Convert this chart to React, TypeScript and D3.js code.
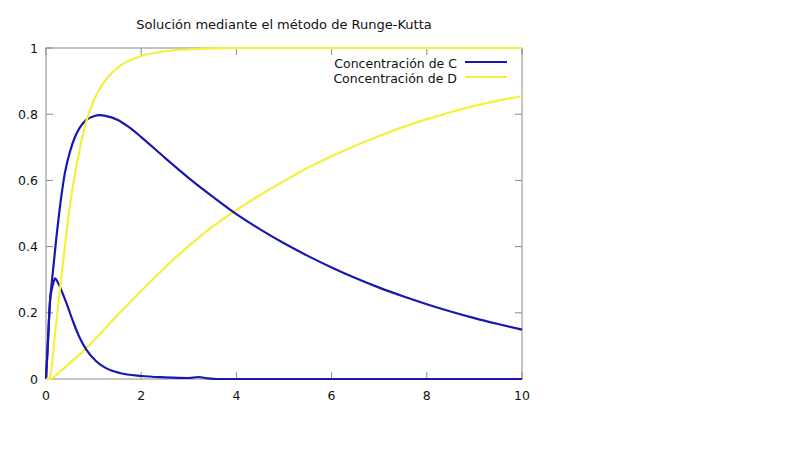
import React from "react";
import * as d3 from "d3";

const title = "Solución mediante el método de Runge-Kutta";
const seriesNames = ["Concentración de C", "Concentración de D"];
const xTicks = [0, 2, 4, 6, 8, 10];
const yTicks = [0, 0.2, 0.4, 0.6, 0.8, 1];

// Concentration of C, slow second step (large peak)
const concC1: [number, number][] = [
  [0, 0], [0.04, 0.11], [0.084, 0.235], [0.12, 0.29], [0.17, 0.36], [0.22, 0.43],
  [0.28, 0.505], [0.4, 0.625], [0.5, 0.685], [0.6, 0.728], [0.7, 0.757], [0.84, 0.782],
  [1.0, 0.794], [1.13, 0.797], [1.25, 0.795], [1.5, 0.783], [1.75, 0.76],
  [2.0, 0.731], [2.5, 0.668], [3.0, 0.607], [3.5, 0.551], [4.0, 0.498],
  [4.5, 0.452], [5, 0.41], [5.5, 0.372], [6, 0.337], [6.5, 0.305], [7, 0.276],
  [7.5, 0.25], [8, 0.226], [8.5, 0.204], [9, 0.184], [9.5, 0.166], [10, 0.149],
];

// Concentration of C, fast second step (small peak)
const concC2: [number, number][] = [
  [0, 0], [0.04, 0.11], [0.084, 0.235], [0.12, 0.27], [0.15, 0.288], [0.19, 0.304],
  [0.24, 0.294], [0.29, 0.279], [0.43, 0.229], [0.57, 0.173], [0.71, 0.124],
  [0.85, 0.088], [1.06, 0.053], [1.27, 0.032], [1.55, 0.018], [2.0, 0.009],
  [2.5, 0.005], [3.0, 0.003], [3.2, 0.006], [3.4, 0.002], [3.6, 0], [10, 0],
];

// Concentration of D, fast
const concD1: [number, number][] = [
  [0, 0], [0.07, 0], [0.1, 0.02], [0.2, 0.15], [0.3, 0.28], [0.4, 0.405],
  [0.5, 0.52], [0.6, 0.612], [0.7, 0.688], [0.84, 0.775], [1.0, 0.84],
  [1.2, 0.893], [1.5, 0.94], [2.0, 0.976], [2.5, 0.99], [3.0, 0.996],
  [3.5, 0.999], [4, 1], [10, 1],
];

// Concentration of D, slow
const concD2: [number, number][] = [
  [0, 0], [0.08, 0], [0.3, 0.023], [0.57, 0.057], [0.85, 0.094], [1.0, 0.116],
  [1.27, 0.157], [1.55, 0.2], [2.0, 0.266], [2.5, 0.337], [3.0, 0.402],
  [3.5, 0.46], [4.0, 0.51], [4.5, 0.556], [5, 0.598], [5.5, 0.638], [6, 0.673],
  [6.5, 0.705], [7, 0.734], [7.5, 0.761], [8, 0.785], [8.5, 0.806], [9, 0.825],
  [9.5, 0.841], [10, 0.855],
];

const BLUE = "#1818b0";
const YELLOW = "#f4f03c";
const FONT = "'DejaVu Sans', Verdana, sans-serif";

export default function App() {
  const W = 800, H = 449;
  const left = 46, right = 522, top = 48, bottom = 379;
  const x = d3.scaleLinear().domain([0, 10]).range([left, right]);
  const y = d3.scaleLinear().domain([0, 1]).range([bottom, top]);
  const line = d3
    .line<[number, number]>()
    .x((d) => x(d[0]))
    .y((d) => y(d[1]))
    .curve(d3.curveMonotoneX);
  const tickLen = 7;
  const grey = "#8a8a8a";

  const curves: { data: [number, number][]; color: string }[] = [
    { data: concD2, color: YELLOW },
    { data: concC1, color: BLUE },
    { data: concC2, color: BLUE },
    { data: concD1, color: YELLOW },
  ];

  return (
    <svg
      width={W}
      height={H}
      style={{ position: "absolute", left: 0, top: 0, background: "#fff" }}
      fontFamily={FONT}
    >
      <rect x={0} y={0} width={W} height={H} fill="#fff" />
      <text x={(left + right) / 2} y={29} textAnchor="middle" fontSize={13} fill="#111">
        {title}
      </text>
      {/* border */}
      <rect x={left} y={top} width={right - left} height={bottom - top} fill="none" stroke={grey} strokeWidth={1} />
      {/* ticks */}
      {xTicks.map((t) => (
        <g key={"x" + t}>
          <line x1={x(t)} x2={x(t)} y1={bottom} y2={bottom - tickLen} stroke={grey} />
          <line x1={x(t)} x2={x(t)} y1={top} y2={top + tickLen} stroke={grey} />
          <text x={x(t)} y={bottom + 21} textAnchor="middle" fontSize={12.5} fill="#111">
            {t}
          </text>
        </g>
      ))}
      {yTicks.map((t) => (
        <g key={"y" + t}>
          <line x1={left} x2={left + tickLen} y1={y(t)} y2={y(t)} stroke={grey} />
          <line x1={right} x2={right - tickLen} y1={y(t)} y2={y(t)} stroke={grey} />
          <text x={38} y={y(t) + 4.5} textAnchor="end" fontSize={12.5} fill="#111">
            {t}
          </text>
        </g>
      ))}
      {/* curves */}
      {curves.map((c, i) => (
        <path key={i} d={line(c.data) || ""} fill="none" stroke={c.color} strokeWidth={2.2} strokeLinejoin="round" />
      ))}
      {/* legend */}
      {seriesNames.map((n, i) => (
        <g key={n}>
          <text x={457} y={68 + i * 15} textAnchor="end" fontSize={12.5} fill="#111">
            {n}
          </text>
          <line x1={465} x2={507} y1={62 + i * 15} y2={62 + i * 15} stroke={i === 0 ? BLUE : YELLOW} strokeWidth={2.2} />
        </g>
      ))}
    </svg>
  );
}
